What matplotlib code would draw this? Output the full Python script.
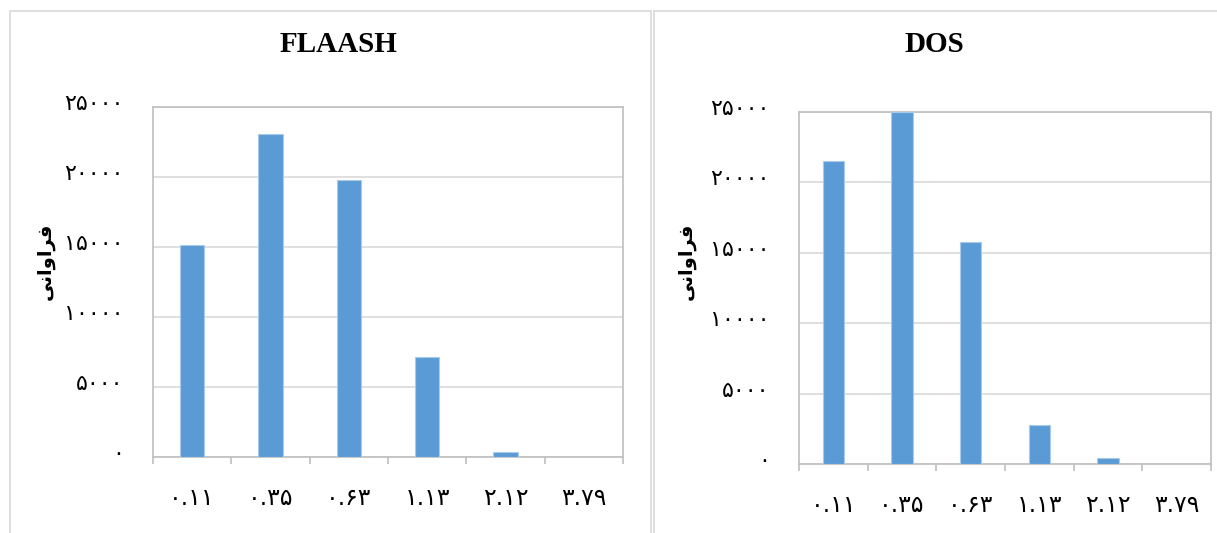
import numpy as np
import matplotlib.pyplot as plt
from matplotlib.patches import Rectangle
from matplotlib.ticker import FuncFormatter, FixedLocator
from matplotlib.transforms import ScaledTranslation

# frequency per class for each correction method
classes = [0.11, 0.35, 0.63, 1.13, 2.12, 3.79]
flaash_freq = [15120, 23100, 19760, 7130, 380, 15]
dos_freq = [21500, 24980, 15760, 2780, 420, 10]
yticks = [0, 5000, 10000, 15000, 20000, 25000]

# "فراوانی" written in shaped presentation forms, visual order
ylabel_fa = "\ufbfd\ufee7\ufe8d\ufeed\ufe8d\ufeae\ufed3"

fa_digits = str.maketrans("0123456789", "۰۱۲۳۴۵۶۷۸۹")


def fa(s):
    return str(s).translate(fa_digits)


bar_col = "#5B9BD5"
grid_col = "#D9D9D9"
axis_col = "#BFBFBF"
W, H = 1217, 533

fig = plt.figure(figsize=(W / 100, H / 100), dpi=100)

# chart area borders
for x0, x1 in [(10, 651), (654, 1230)]:
    fig.patches.append(Rectangle((x0 / W, -0.1), (x1 - x0) / W, 1.1 - 11 / H,
                                 transform=fig.transFigure, fill=False,
                                 edgecolor=grid_col, linewidth=1.2))


def panel(rect, vals, title, title_x, ylab_x):
    ax = fig.add_axes(rect)
    x = np.arange(len(classes))
    ax.bar(x, vals, width=0.31, color=bar_col, edgecolor="#A9CBEB",
           linewidth=0.8, zorder=3)
    ax.set_xlim(-0.5, len(classes) - 0.5)
    ax.set_ylim(0, 25000)
    ax.yaxis.set_major_locator(FixedLocator(yticks))
    ax.yaxis.set_major_formatter(FuncFormatter(lambda v, p: fa(int(v))))
    ax.grid(axis="y", color=grid_col, linewidth=1.2, zorder=0)
    ax.set_xticks(x)
    ax.set_xticklabels([fa(f"{c:.2f}") for c in classes])
    ax.set_xticks(np.arange(-0.5, len(classes)), minor=True)
    ax.tick_params(axis="x", which="major", length=0, pad=21, labelsize=17)
    ax.tick_params(axis="x", which="minor", length=5, color=axis_col, width=1.2)
    ax.tick_params(axis="y", length=0, pad=21, labelsize=16)
    for lab in ax.get_xticklabels() + ax.get_yticklabels():
        lab.set_family(["DejaVu Sans"])
    # lift y labels a little above their gridlines
    lift = ScaledTranslation(0, 5 / 100, fig.dpi_scale_trans)
    for lab in ax.get_yticklabels():
        lab.set_transform(lab.get_transform() + lift)
    for sp in ax.spines.values():
        sp.set_color(axis_col)
        sp.set_linewidth(1.2)
    fig.text(title_x / W, 1 - 45 / H, title, ha="center", va="center",
             family=["Liberation Serif"], fontweight="bold", fontsize=21)
    fig.text(ylab_x / W, 1 - 261 / H, ylabel_fa, rotation=90, ha="center",
             va="center", family=["DejaVu Sans"], fontweight="bold", fontsize=14)
    return ax


panel([153 / W, 1 - 457 / H, 470 / W, 350 / H], flaash_freq, "FLAASH", 338, 45)
panel([799 / W, 1 - 464 / H, 412 / W, 352 / H], dos_freq, "DOS", 934, 686)

fig.savefig("out.png", dpi=100)
